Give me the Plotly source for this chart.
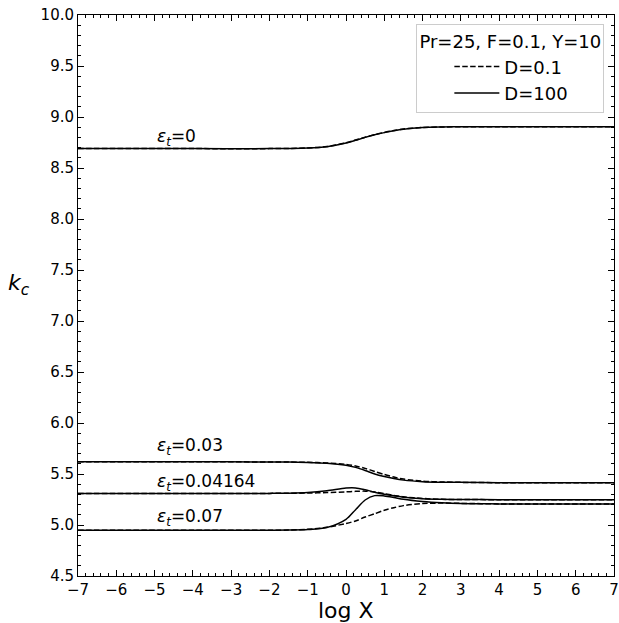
import plotly.graph_objects as go

# ---- data ----
x_pts = [-7, -4, -2, -1.5, -1, -0.5, 0, 0.25, 0.5, 0.75, 1, 1.25, 1.5, 2, 2.5, 3, 4, 5, 7]

eps0_solid  = [8.69, 8.69, 8.69, 8.692, 8.696, 8.709, 8.745, 8.772, 8.80, 8.825, 8.847, 8.866, 8.881, 8.897, 8.902, 8.904, 8.905, 8.905, 8.905]
eps0_dash   = [8.69, 8.69, 8.69, 8.692, 8.696, 8.710, 8.747, 8.774, 8.802, 8.827, 8.849, 8.867, 8.882, 8.897, 8.902, 8.904, 8.905, 8.905, 8.905]

eps03_solid = [5.62, 5.62, 5.618, 5.617, 5.613, 5.605, 5.585, 5.565, 5.535, 5.50, 5.475, 5.455, 5.44, 5.425, 5.42, 5.418, 5.415, 5.415, 5.415]
eps03_dash  = [5.62, 5.62, 5.618, 5.617, 5.614, 5.608, 5.595, 5.578, 5.555, 5.525, 5.495, 5.47, 5.45, 5.43, 5.422, 5.418, 5.415, 5.415, 5.415]

eps04_solid = [5.31, 5.31, 5.31, 5.312, 5.318, 5.335, 5.362, 5.363, 5.345, 5.322, 5.302, 5.286, 5.273, 5.258, 5.252, 5.25, 5.248, 5.248, 5.248]
eps04_dash  = [5.31, 5.31, 5.31, 5.311, 5.313, 5.318, 5.325, 5.33, 5.332, 5.324, 5.307, 5.29, 5.276, 5.26, 5.252, 5.25, 5.248, 5.248, 5.248]

eps07_solid = [4.948, 4.948, 4.948, 4.95, 4.955, 4.975, 5.055, 5.15, 5.245, 5.288, 5.285, 5.27, 5.252, 5.23, 5.217, 5.21, 5.207, 5.205, 5.205]
eps07_dash  = [4.948, 4.948, 4.948, 4.95, 4.958, 4.977, 5.015, 5.04, 5.078, 5.11, 5.145, 5.17, 5.19, 5.21, 5.215, 5.212, 5.207, 5.205, 5.205]

curve_labels = ["<i>ε</i><sub><i>t</i></sub>=0", "<i>ε</i><sub><i>t</i></sub>=0.03",
                "<i>ε</i><sub><i>t</i></sub>=0.04164", "<i>ε</i><sub><i>t</i></sub>=0.07"]
label_x = [-5.0, -5.0, -5.0, -5.0]
label_y = [8.80, 5.765, 5.42, 5.07]

x_ticks = [-7, -6, -5, -4, -3, -2, -1, 0, 1, 2, 3, 4, 5, 6, 7]
y_ticks = [4.5, 5.0, 5.5, 6.0, 6.5, 7.0, 7.5, 8.0, 8.5, 9.0, 9.5, 10.0]

legend_title = "Pr=25, F=0.1, Y=10"
legend_names = ["D=0.1", "D=100"]

FONT = "DejaVu Sans"
DASH = "5.5px,2.4px"
fig = go.Figure()

solids = [eps0_solid, eps03_solid, eps04_solid, eps07_solid]
dashes = [eps0_dash, eps03_dash, eps04_dash, eps07_dash]

for ys in solids:
    fig.add_trace(go.Scatter(x=x_pts, y=ys, mode="lines",
                             line=dict(color="black", width=1.5, shape="spline", smoothing=0.8),
                             name=legend_names[1], showlegend=False))
for ys in dashes:
    fig.add_trace(go.Scatter(x=x_pts, y=ys, mode="lines",
                             line=dict(color="black", width=1.5, dash=DASH, shape="spline", smoothing=0.8),
                             name=legend_names[0], showlegend=False))

# legend entries
fig.add_trace(go.Scatter(x=[None], y=[None], mode="lines",
                         line=dict(color="black", width=1.5, dash=DASH), name=legend_names[0]))
fig.add_trace(go.Scatter(x=[None], y=[None], mode="lines",
                         line=dict(color="black", width=1.5), name=legend_names[1]))

for t, lx, ly in zip(curve_labels, label_x, label_y):
    fig.add_annotation(x=lx, y=ly, text=t, showarrow=False, xanchor="left", yanchor="middle",
                       font=dict(family=FONT, size=17, color="black"))

fig.add_annotation(xref="paper", yref="paper", x=-0.11, y=0.519, text="<i>k<sub>c</sub></i>",
                   showarrow=False, xanchor="center", yanchor="middle",
                   font=dict(family=FONT, size=22, color="black"))
fig.add_annotation(xref="paper", yref="paper", x=0.5, y=-0.061, text="log X",
                   showarrow=False, xanchor="center", yanchor="middle",
                   font=dict(family=FONT, size=22, color="black"))

axis_common = dict(showgrid=False, zeroline=False, showline=True, linecolor="black", linewidth=1,
                   mirror="ticks", ticks="inside", ticklen=6, tickwidth=1, tickcolor="black",
                   automargin=False, ticklabeloverflow="allow",
                   tickfont=dict(family=FONT, size=15, color="black"))

fig.update_xaxes(range=[-7, 7], tickvals=x_ticks, ticktext=[f"{v}".replace("-", "−") for v in x_ticks],
                 minor=dict(ticks="inside", ticklen=3, dtick=0.2, tick0=-7, tickcolor="black", tickwidth=1),
                 **axis_common)
fig.update_yaxes(range=[4.5, 10], tickvals=y_ticks, ticktext=[f"{v:.1f}" for v in y_ticks],
                 minor=dict(ticks="inside", ticklen=3, dtick=0.1, tick0=4.5, tickcolor="black", tickwidth=1),
                 **axis_common)

fig.update_layout(width=619, height=623, margin=dict(l=78, r=5, t=15, b=47),
                  plot_bgcolor="white", paper_bgcolor="white",
                  font=dict(family=FONT, size=17, color="black"),
                  legend=dict(x=0.982, y=0.984, xanchor="right", yanchor="top",
                              title=dict(text=legend_title, side="top center",
                                         font=dict(family=FONT, size=18, color="black")),
                              bordercolor="#cccccc", borderwidth=1, bgcolor="white",
                              font=dict(family=FONT, size=18, color="black"),
                              traceorder="normal", itemwidth=45, indentation=32),
                  showlegend=True)

fig.write_html("out.html", config={"displayModeBar": False},
               post_script="document.body.style.margin='0';document.body.style.overflow='hidden';")
